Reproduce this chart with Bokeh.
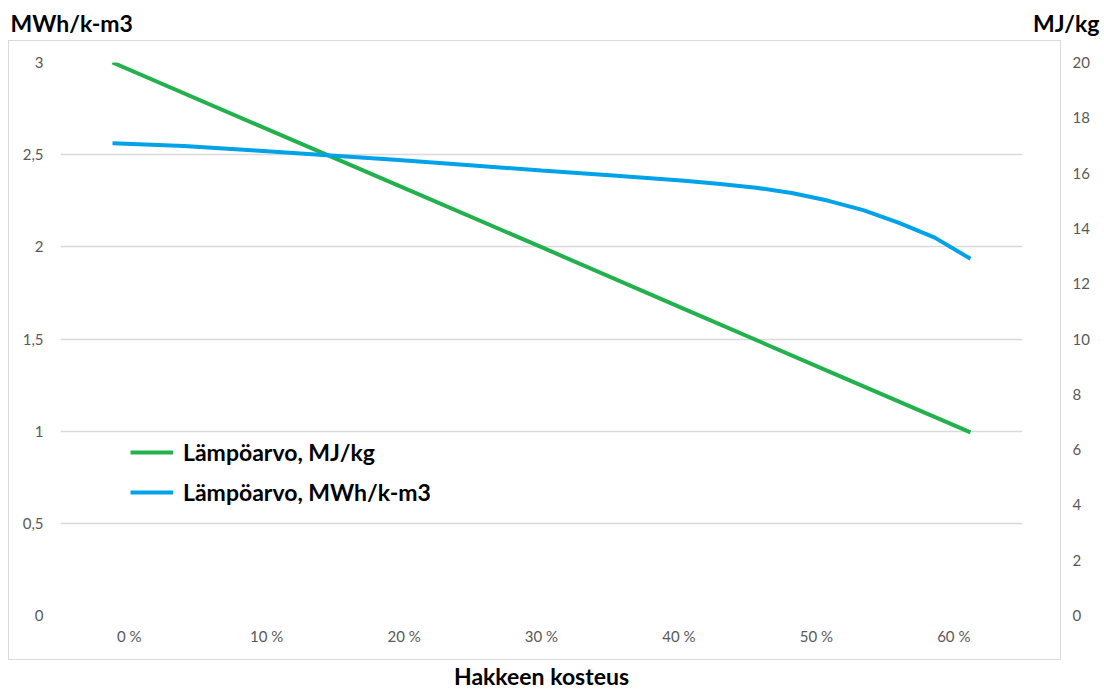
from bokeh.plotting import figure
from bokeh.models import (Range1d, LinearAxis, FixedTicker, Legend, LegendItem,
                          Label, InlineStyleSheet)
from bokeh.embed import file_html
from bokeh.resources import INLINE

# ---- data ----
x_ticks = [0, 10, 20, 30, 40, 50, 60]
x_labels = ["0 %", "10 %", "20 %", "30 %", "40 %", "50 %", "60 %"]
left_ticks = [0, 0.5, 1, 1.5, 2, 2.5, 3]
left_labels = ["0", "0,5", "1", "1,5", "2", "2,5", "3"]
right_ticks = [0, 2, 4, 6, 8, 10, 12, 14, 16, 18, 20]

mj_moisture = [0, 10, 20, 30, 40, 50, 60]
mj_values = [20.0, 17.77, 15.55, 13.32, 11.08, 8.85, 6.62]

mwh_moisture = [0, 5, 10, 15, 20, 25, 30, 35, 40, 42.5, 45, 47.5, 50, 52.5, 55, 57.5, 60]
mwh_values = [2.562, 2.547, 2.522, 2.497, 2.471, 2.443, 2.414, 2.387, 2.358,
              2.341, 2.321, 2.292, 2.251, 2.199, 2.130, 2.050, 1.935]

GREEN = "#22b14c"
BLUE = "#00a2e8"
GRID = "#d9d9d9"
TICK = "#595959"
FONT = "Lato"

p = figure(width=1104, height=690, output_backend="svg", toolbar_location=None,
           x_range=Range1d(-5, 65), y_range=Range1d(0, 3),
           min_border_left=60, min_border_right=82, min_border_top=62,
           min_border_bottom=75)
p.extra_y_ranges = {"mj": Range1d(0, 20)}
p.extra_x_ranges = {"ser": Range1d(-3.636, 63.636)}
p.outline_line_color = None
p.background_fill_color = "white"
p.border_fill_color = "white"

p.xgrid.grid_line_color = None
p.ygrid.grid_line_color = GRID
p.ygrid.grid_line_width = 1.3
p.ygrid.ticker = FixedTicker(ticks=left_ticks)

def style_axis(ax, standoff):
    ax.axis_line_color = None
    ax.major_tick_line_color = None
    ax.minor_tick_line_color = None
    ax.major_tick_out = 0
    ax.major_tick_in = 0
    ax.minor_tick_out = 0
    ax.minor_tick_in = 0
    ax.major_label_standoff = standoff
    ax.major_label_text_color = TICK
    ax.major_label_text_font = FONT
    ax.major_label_text_font_size = "15px"

# left axis
ya = p.yaxis[0]
ya.ticker = FixedTicker(ticks=left_ticks)
ya.major_label_overrides = {float(t): s for t, s in zip(left_ticks, left_labels)}
style_axis(ya, 17)

# right axis
ra = LinearAxis(y_range_name="mj", ticker=FixedTicker(ticks=right_ticks))
style_axis(ra, 50)
p.add_layout(ra, "right")

# x axis
xa = p.xaxis[0]
xa.ticker = FixedTicker(ticks=x_ticks)
xa.major_label_overrides = {float(t): s for t, s in zip(x_ticks, x_labels)}
style_axis(xa, 11)

# lines
g = p.line(mj_moisture, mj_values, x_range_name="ser", y_range_name="mj",
           line_color=GREEN, line_width=4)
b = p.line(mwh_moisture, mwh_values, x_range_name="ser",
           line_color=BLUE, line_width=4)

legend = Legend(items=[LegendItem(label="Lämpöarvo, MJ/kg", renderers=[g]),
                       LegendItem(label="Lämpöarvo, MWh/k-m3", renderers=[b])],
                location=(70, 108), orientation="vertical")
legend.background_fill_alpha = 0
legend.border_line_color = None
legend.padding = 0
legend.margin = 0
legend.spacing = 10
legend.glyph_width = 43
legend.glyph_height = 30
legend.label_height = 30
legend.label_standoff = 10
legend.label_text_font = FONT
legend.label_text_font_style = "bold"
legend.label_text_font_size = "23px"
legend.label_text_color = "black"
p.add_layout(legend, "center")

# axis titles (side panels, not clipped to the frame)
title_style = dict(x_units="canvas", y_units="canvas", text_font=FONT,
                   text_font_style="bold", text_font_size="23px",
                   text_color="black", text_baseline="middle")
p.add_layout(Label(x=10, y=22, text="MWh/k-m3", text_align="left", **title_style), "above")
p.add_layout(Label(x=1099, y=22, text="MJ/kg", text_align="right", **title_style), "above")
p.add_layout(Label(x=541, y=675, text="Hakkeen kosteus", text_align="center",
                   **title_style), "below")

# outer chart border
p.stylesheets = [InlineStyleSheet(css=(
    ":host { position: relative; }"
    ":host::after { content: ''; position: absolute; left: 8px; top: 40px;"
    " width: 1053px; height: 620px; border: 1.5px solid #d9d9d9;"
    " pointer-events: none; box-sizing: border-box; }"))]

open("out.html", "w").write(file_html(p, INLINE))
